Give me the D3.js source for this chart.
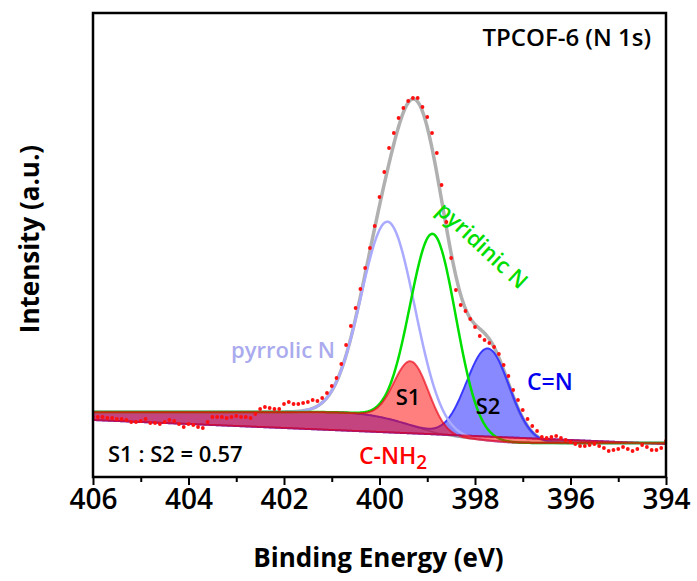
<!DOCTYPE html>
<html>
<head>
<meta charset="utf-8">
<script src="https://cdn.jsdelivr.net/npm/d3@7"></script>
<style>
body { margin: 0; background: #fff; }
svg text { font-family: "Open Sans", sans-serif; font-weight: 600; }
</style>
</head>
<body>
<svg id="chart" width="697" height="581"></svg>
<script>
// measured N 1s spectrum, 406 -> 394 eV in 0.1 eV steps
const energyStart = 406;
const energyStep = 0.1;
const counts = [
  590,590,590,580,580,570,570,560,540,540,
  550,570,530,530,520,540,560,550,520,490,
  520,510,490,480,540,590,590,590,580,590,
  600,590,590,580,620,670,690,680,670,670,
  720,740,720,720,730,740,760,750,780,830,
  900,980,1120,1310,1500,1680,1870,2080,2280,2500,
  2790,3040,3280,3430,3580,3680,3750,3780,3780,3690,
  3590,3430,3230,2910,2540,2180,1860,1710,1650,1570,
  1490,1400,1360,1330,1290,1220,1110,1000,860,760,
  660,570,500,450,390,380,390,400,380,360,
  340,320,300,300,310,320,300,280,250,260,
  270,290,270,250,270,310,290,260,260,280,
  350
];

// fitted components (gaussian)
const peakNames = ["pyrrolic N", "pyridinic N", "S1", "S2"];
const peakCenters = [399.82, 398.88, 399.33, 397.73];
const peakHeights = [1970, 1980, 640, 920];
const peakSigmas = [0.56, 0.48, 0.36, 0.45];

// shirley background end levels [high BE side, low BE side]
const shirleyEnds = [640, 330];
// straight baseline used for the S1 / S2 areas [406 eV, 394 eV]
const linearEnds = [560, 320];

const majorTicks = [406, 404, 402, 400, 398, 396, 394];
const minorTicks = [405, 403, 401, 399, 397, 395];

const margin = { top: 13, right: 31, bottom: 104, left: 93 };
const width = 697 - margin.left - margin.right;
const height = 581 - margin.top - margin.bottom;

const x = d3.scaleLinear().domain([406, 394]).range([0, width]);
const y = d3.scaleLinear().domain([0, 4630]).range([height - 1, 0]);

const svg = d3.select("#chart");
const g = svg.append("g").attr("transform", "translate(" + margin.left + "," + margin.top + ")");

g.append("clipPath").attr("id", "plot-clip")
  .append("rect").attr("width", width).attr("height", height);

// ---- fit model ----
function gauss(k, e) {
  const d = (e - peakCenters[k]) / peakSigmas[k];
  return peakHeights[k] * Math.exp(-0.5 * d * d);
}
function peakSum(e) {
  let s = 0;
  for (let k = 0; k < peakCenters.length; k++) s += gauss(k, e);
  return s;
}

// evaluation grid for the smooth curves
const grid = d3.range(394, 406.0001, 0.02);
// shirley: proportional to the peak area on the low BE side
let acc = 0;
const cum = grid.map(function(e, i) {
  if (i > 0) acc += (peakSum(e) + peakSum(grid[i - 1])) / 2;
  return acc;
});
const total = acc;
const curve = grid.map(function(e, i) {
  const bg = shirleyEnds[1] + (shirleyEnds[0] - shirleyEnds[1]) * cum[i] / total;
  const lin = linearEnds[1] + (linearEnds[0] - linearEnds[1]) * (e - 394) / 12;
  return { e: e, bg: bg, lin: lin, comp: peakCenters.map(function(c, k) { return bg + gauss(k, e); }), env: bg + peakSum(e) };
});

const plot = g.append("g").attr("clip-path", "url(#plot-clip)");

function lineOf(fn) {
  return d3.line().x(function(d) { return x(d.e); }).y(function(d) { return y(fn(d)); });
}
function areaOf(k) {
  return d3.area().x(function(d) { return x(d.e); })
    .y0(function(d) { return y(d.lin); })
    .y1(function(d) { return y(d.comp[k]); });
}

// envelope (drawn first, the component lines cover it on the tails)
plot.append("path").datum(curve)
  .attr("d", lineOf(function(d) { return d.env; }))
  .attr("fill", "none").attr("stroke", "#b0b0b0").attr("stroke-width", 3.5);

// background
plot.append("path").datum(curve)
  .attr("d", lineOf(function(d) { return d.bg; }))
  .attr("fill", "none").attr("stroke", "#999").attr("stroke-width", 1.5);

// S2 (C=N)
plot.append("path").datum(curve).attr("d", areaOf(3))
  .attr("fill", "rgba(40,40,255,0.55)")
  .attr("stroke", "#3a3aff").attr("stroke-width", 2);

// pyrrolic N
plot.append("path").datum(curve)
  .attr("d", lineOf(function(d) { return d.comp[0]; }))
  .attr("fill", "none").attr("stroke", "#aaaaff").attr("stroke-width", 2.5);

// pyridinic N
plot.append("path").datum(curve)
  .attr("d", lineOf(function(d) { return d.comp[1]; }))
  .attr("fill", "none").attr("stroke", "#00e000").attr("stroke-width", 2.5);

// S1 (C-NH2)
plot.append("path").datum(curve).attr("d", areaOf(2))
  .attr("fill", "rgba(255,0,0,0.5)")
  .attr("stroke", "rgba(235,0,20,0.65)").attr("stroke-width", 2);

// measured points
plot.selectAll("circle.pt").data(counts).enter().append("circle")
  .attr("class", "pt")
  .attr("cx", function(d, i) { return x(energyStart - i * energyStep); })
  .attr("cy", function(d) { return y(d); })
  .attr("r", 1.9)
  .attr("fill", "#ff1010");

// ---- frame & axis ----
g.append("rect").attr("width", width).attr("height", height)
  .attr("fill", "none").attr("stroke", "#000").attr("stroke-width", 2.5);

const xAxis = g.append("g").attr("transform", "translate(0," + height + ")")
  .call(d3.axisBottom(x).tickValues(majorTicks).tickSize(8).tickPadding(4).tickFormat(d3.format("d")));
xAxis.select(".domain").remove();
xAxis.selectAll("line").attr("stroke-width", 2);
xAxis.selectAll("text").attr("font-size", 28).attr("fill", "#000")
  .style("font-family", "'Open Sans', sans-serif").style("font-weight", 600);

const xMinor = g.append("g").attr("transform", "translate(0," + height + ")")
  .call(d3.axisBottom(x).tickValues(minorTicks).tickSize(5).tickFormat(""));
xMinor.select(".domain").remove();
xMinor.selectAll("line").attr("stroke-width", 2);

svg.append("text").attr("x", margin.left + width / 2 - 1).attr("y", 567)
  .attr("text-anchor", "middle").attr("font-size", 26).style("font-weight", 700)
  .text("Binding Energy (eV)");

svg.append("text").attr("transform", "translate(39,239) rotate(-90)")
  .attr("text-anchor", "middle").attr("font-size", 26).style("font-weight", 700)
  .text("Intensity (a.u.)");

// ---- annotations ----
svg.append("text").attr("x", 651).attr("y", 46).attr("text-anchor", "end")
  .attr("font-size", 24).text("TPCOF-6 (N 1s)");

svg.append("text").attr("x", 283).attr("y", 358).attr("text-anchor", "middle")
  .attr("font-size", 22).attr("fill", "#aaaaee").text(peakNames[0]);

svg.append("text").attr("transform", "translate(435,212) rotate(43)")
  .attr("font-size", 22).attr("fill", "#00dd00").text(peakNames[1]);

svg.append("text").attr("x", 408).attr("y", 405).attr("text-anchor", "middle")
  .attr("font-size", 22).attr("fill", "#000").text(peakNames[2]);

svg.append("text").attr("x", 488).attr("y", 414).attr("text-anchor", "middle")
  .attr("font-size", 22).attr("fill", "#000").text(peakNames[3]);

svg.append("text").attr("x", 527).attr("y", 390)
  .attr("font-size", 23).attr("fill", "#0000ee").text("C=N");

const nh2 = svg.append("text").attr("x", 359).attr("y", 464)
  .attr("font-size", 23).attr("fill", "#ff0000");
nh2.append("tspan").text("C-NH");
nh2.append("tspan").attr("dy", 5).attr("font-size", 19).text("2");

svg.append("text").attr("x", 108).attr("y", 462)
  .attr("font-size", 22).attr("fill", "#000").text("S1 : S2 = 0.57");
</script>
</body>
</html>
